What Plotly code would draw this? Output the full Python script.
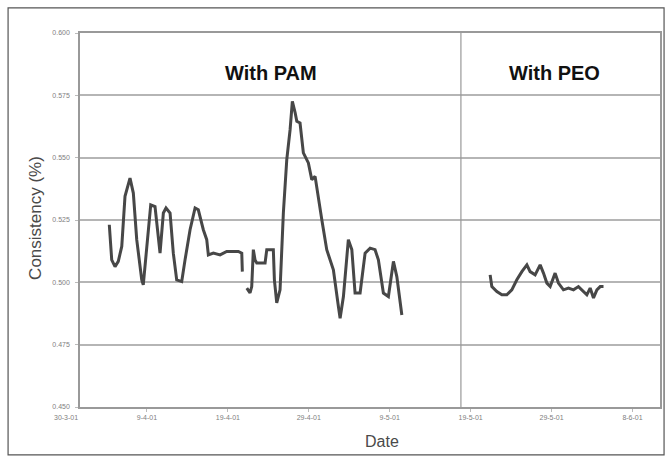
import pandas as pd
import plotly.graph_objects as go

start_date = pd.Timestamp("2001-03-30")

# PAM period: days since 30-3-01, consistency (%) ; None marks a gap in the record
pam_days = [5.35, 5.65, 6.06, 6.46, 6.89, 7.29, 7.91, 8.32, 8.74, 9.36, 9.55, 9.98, 10.47, 11.0,
            11.62, 12.03, 12.36, 12.86, 13.26, 13.68, 14.30, 14.71, 15.33, 15.95, 16.35, 16.97,
            17.39, 17.59, 18.21, 19.04, 19.86, 20.68, 21.30, 21.72, 21.79, 22.05,
            22.34, 22.74, 22.95, 23.15, 23.36, 23.57, 24.60, 24.81, 25.62, 25.75, 26.04, 26.45,
            26.86, 27.28, 27.69, 27.97, 28.31, 28.52, 28.92, 29.33, 29.95, 30.37, 30.78, 30.99,
            31.61, 32.22, 33.04, 33.66, 33.87, 34.28, 34.89, 35.32, 35.72, 36.34, 36.96, 37.58,
            38.19, 38.60, 39.22, 39.84, 40.46, 40.88, 41.50]
pam_values = [0.5231, 0.5090, 0.5063, 0.5084, 0.5144, 0.5345, 0.5418, 0.5358, 0.5171, 0.5010,
              0.4990, 0.5144, 0.5311, 0.5304, 0.5117, 0.5278, 0.5298, 0.5278, 0.5117, 0.5010,
              0.5003, 0.5090, 0.5211, 0.5298, 0.5291, 0.5211, 0.5171, 0.5110, 0.5117, 0.5110,
              0.5124, 0.5124, 0.5124, 0.5117, 0.5043, None,
              0.4977, 0.4958, 0.4983, 0.5131, 0.5090, 0.5078, 0.5078, 0.5131, 0.5131, 0.5010,
              0.4918, 0.4970, 0.5279, 0.5492, 0.5612, 0.5726, 0.5681, 0.5646, 0.5639, 0.5519,
              0.5479, 0.5412, 0.5425, 0.5385, 0.5251, 0.5131, 0.5050, 0.4903, 0.4856, 0.4943,
              0.5171, 0.5131, 0.4957, 0.4957, 0.5117, 0.5137, 0.5131, 0.5090, 0.4957, 0.4943,
              0.5084, 0.5023, 0.4869]

# PEO period
peo_days = [52.41, 52.62, 53.24, 53.86, 54.47, 55.09, 55.71, 56.33, 56.95, 57.35, 57.97, 58.59,
            59.0, 59.42, 59.83, 60.44, 60.85, 61.47, 62.09, 62.71, 63.32, 63.94, 64.36, 64.77,
            65.18, 65.6, 66.01, 66.42]
peo_values = [0.5030, 0.4983, 0.4963, 0.4950, 0.4950, 0.4970, 0.5010, 0.5043, 0.5070, 0.5043,
              0.5030, 0.5070, 0.5037, 0.4997, 0.4983, 0.5037, 0.4997, 0.4970, 0.4977, 0.4970,
              0.4983, 0.4963, 0.4950, 0.4977, 0.4937, 0.4970, 0.4983, 0.4983]

divider_day = 48.8
tick_days = [0, 10, 20, 30, 40, 50, 60, 70]
y_ticks = [0.450, 0.475, 0.500, 0.525, 0.550, 0.575, 0.600]
x_range_days = [1.73, 73.4]
period_labels = ["With PAM", "With PEO"]
period_label_days = [25.3, 60.4]


def to_dates(days):
    return [start_date + pd.Timedelta(days=d) for d in days]


def fmt(d):
    return f"{d.day}-{d.month}-{d.strftime('%y')}"


line_style = dict(color="#474747", width=3)

fig = go.Figure()
fig.add_trace(go.Scatter(x=to_dates(pam_days), y=pam_values, mode="lines",
                         line=line_style, connectgaps=False, showlegend=False))
fig.add_trace(go.Scatter(x=to_dates(peo_days), y=peo_values, mode="lines",
                         line=line_style, showlegend=False))

tick_dates = to_dates(tick_days)
fig.update_layout(
    width=670, height=463,
    margin=dict(l=80, r=10, t=33, b=56, autoexpand=False),
    paper_bgcolor="white", plot_bgcolor="white",
    font=dict(family="Liberation Sans, Arial, sans-serif", color="#555"),
    xaxis=dict(
        type="date", range=to_dates(x_range_days),
        tickvals=tick_dates[1:], ticktext=[fmt(d) for d in tick_dates[1:]],
        tickfont=dict(size=7, color="#808080"),
        showgrid=False, showline=True, linecolor="#999", linewidth=1.5, mirror=True,
        ticks="outside", ticklen=3, tickcolor="#bbb",
        zeroline=False, automargin=False,
    ),
    yaxis=dict(
        range=[y_ticks[0], y_ticks[-1]], tickvals=y_ticks, tickformat=".3f",
        tickfont=dict(size=7, color="#808080"), ticklabelstandoff=4,
        showgrid=True, gridcolor="#b5b5b5", gridwidth=1.5,
        showline=True, linecolor="#999", linewidth=1.5, mirror=True,
        ticks="outside", ticklen=3, tickcolor="#bbb",
        zeroline=False, automargin=False,
    ),
)

# first date label sits left of the plotting area
fig.add_annotation(x=-0.024, y=0, xref="paper", yref="paper", yshift=-10, showarrow=False,
                   xanchor="center", yanchor="middle",
                   text=fmt(tick_dates[0]), font=dict(size=7, color="#808080"))

# axis titles
fig.add_annotation(x=0.521, y=-0.091, xref="paper", yref="paper", showarrow=False,
                   xanchor="center", yanchor="middle",
                   text="Date", font=dict(size=16, color="#4a4a4a"))
fig.add_annotation(x=-0.078, y=0.505, xref="paper", yref="paper", showarrow=False,
                   xanchor="center", yanchor="middle",
                   text="Consistency (%)", textangle=-90, font=dict(size=17, color="#4a4a4a"))

fig.add_shape(type="line", xref="x", yref="paper",
              x0=to_dates([divider_day])[0], x1=to_dates([divider_day])[0], y0=0, y1=1,
              line=dict(color="#999", width=1.2))

for label, day in zip(period_labels, period_label_days):
    fig.add_annotation(x=to_dates([day])[0], y=0.5841, xref="x", yref="y", showarrow=False,
                       text=f"<b>{label}</b>", font=dict(size=20, color="#111"))

# outer chart border
fig.add_shape(type="rect", xref="paper", yref="paper",
              x0=-0.124, x1=1.007, y0=-0.128, y1=1.067,
              line=dict(color="#555", width=1.2))

fig.write_html("out.html", config={"displayModeBar": False},
               post_script="document.body.style.margin='0';")
